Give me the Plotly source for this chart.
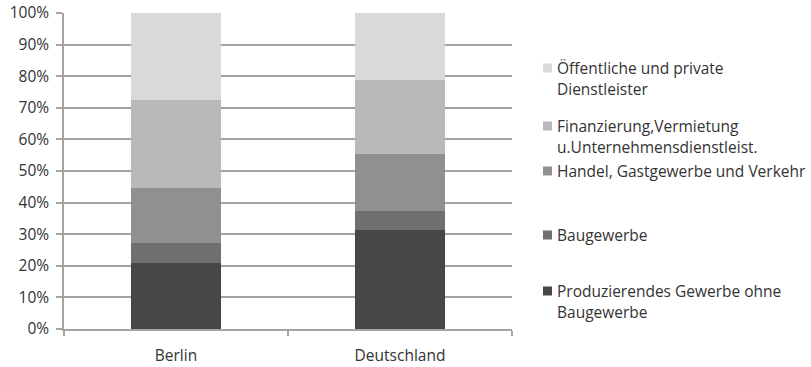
import plotly.graph_objects as go

# Anteil der Wirtschaftsbereiche an der Bruttowertschöpfung (in %)
regions = ["Berlin", "Deutschland"]

sectors = [
    "Produzierendes Gewerbe ohne\nBaugewerbe",
    "Baugewerbe",
    "Handel, Gastgewerbe und Verkehr",
    "Finanzierung,Vermietung\nu.Unternehmensdienstleist.",
    "Öffentliche und private\nDienstleister",
]

produzierendes = [20.8, 31.4]
baugewerbe = [6.4, 6.0]
handel = [17.5, 18.0]
finanzierung = [27.7, 23.3]
oeffentlich = [27.6, 21.3]

series_values = [produzierendes, baugewerbe, handel, finanzierung, oeffentlich]
colors = ["#474747", "#6f6f6f", "#909090", "#b9b9b9", "#d9d9d9"]

y_ticks = list(range(0, 101, 10))
y_tick_labels = [f"{v}%" for v in y_ticks]

FONT = "Open Sans"
FONT_SIZE = 15.5
TEXT_COLOR = "#333333"
AXIS_COLOR = "#a3a3a3"

fig = go.Figure()
for name, vals, col in zip(sectors, series_values, colors):
    fig.add_trace(go.Bar(
        x=regions, y=vals, name=name.replace("\n", " "),
        marker=dict(color=col, line=dict(width=0)),
        showlegend=False,
    ))

# Legend drawn at the right: one square and text lines per sector, top entry last series
legend_rows_px = [291, 235, 171, 126, 68]   # vertical centre of the first line of each entry
line_step_px = 21
plot_top, plot_bottom, plot_left, plot_right = 13, 329, 64, 512
plot_h = plot_bottom - plot_top
plot_w = plot_right - plot_left


def px_to_paper_y(py):
    return (plot_bottom - py) / plot_h


def px_to_paper_x(px):
    return (px - plot_left) / plot_w


annotations = []
shapes = []
for name, col, row in zip(sectors, colors, legend_rows_px):
    shapes.append(dict(
        type="rect", xref="paper", yref="paper",
        x0=px_to_paper_x(543), x1=px_to_paper_x(552),
        y0=px_to_paper_y(row + 4.5), y1=px_to_paper_y(row - 4.5),
        fillcolor=col, line=dict(width=0),
    ))
    for i, line in enumerate(name.split("\n")):
        annotations.append(dict(
            text=line, xref="paper", yref="paper",
            x=px_to_paper_x(555), y=px_to_paper_y(row + i * line_step_px),
            xanchor="left", yanchor="middle", showarrow=False,
            font=dict(family=FONT, size=FONT_SIZE, color=TEXT_COLOR),
        ))

fig.update_layout(
    barmode="stack",
    bargap=0.6,
    width=811, height=367,
    margin=dict(l=plot_left, r=811 - plot_right, t=plot_top, b=367 - plot_bottom),
    paper_bgcolor="white",
    plot_bgcolor="white",
    font=dict(family=FONT, size=FONT_SIZE, color=TEXT_COLOR),
    annotations=annotations,
    shapes=shapes,
)

fig.update_yaxes(
    range=[0, 100],
    tickvals=y_ticks,
    ticktext=y_tick_labels,
    automargin=False,
    showgrid=True, gridcolor=AXIS_COLOR, gridwidth=1.5,
    showline=True, linecolor=AXIS_COLOR, linewidth=1.5,
    ticks="outside", ticklen=6, tickcolor=AXIS_COLOR, tickwidth=1.5,
    ticklabelstandoff=4,
    zeroline=False,
    tickfont=dict(family=FONT, size=FONT_SIZE, color=TEXT_COLOR),
)
fig.update_xaxes(
    automargin=False,
    showline=True, linecolor=AXIS_COLOR, linewidth=1.5,
    ticks="outside", ticklen=5, tickcolor=AXIS_COLOR, tickwidth=1.5,
    tickson="boundaries",
    ticklabelstandoff=12,
    showgrid=False,
    tickfont=dict(family=FONT, size=FONT_SIZE, color=TEXT_COLOR),
)

fig.write_html("out.html")
